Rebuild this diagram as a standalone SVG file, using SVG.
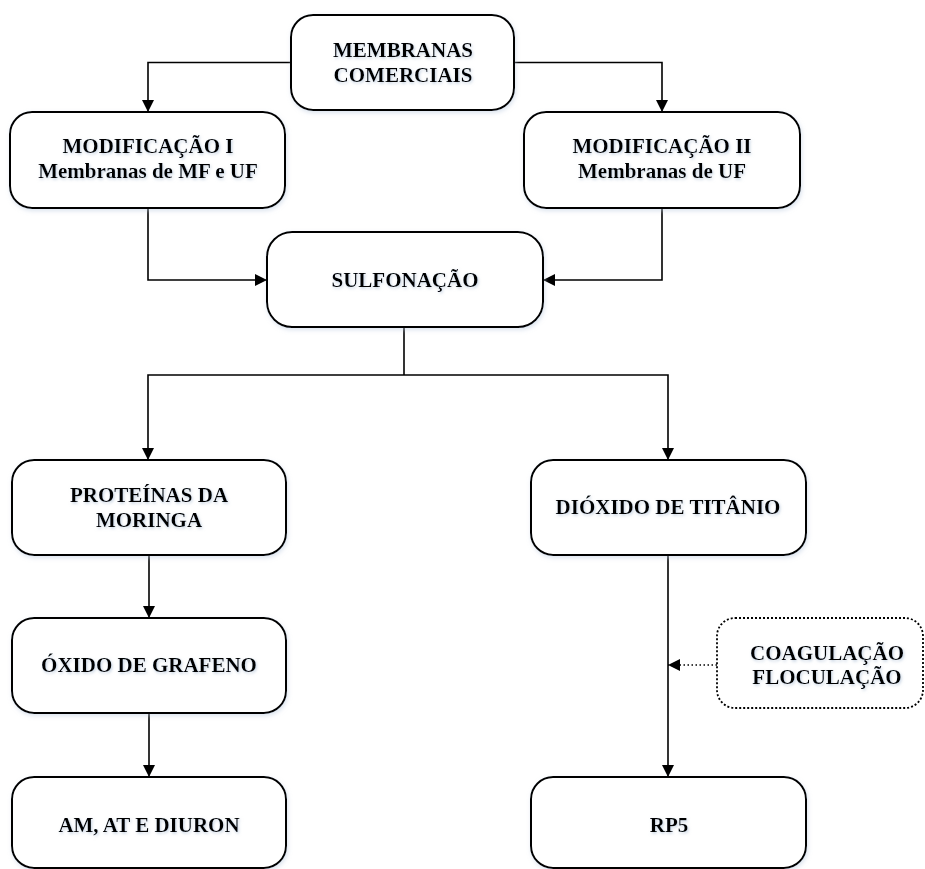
<svg xmlns="http://www.w3.org/2000/svg" width="925" height="869" viewBox="0 0 925 869">
<style>
  .box { fill: #ffffff; stroke: #000000; stroke-width: 2; }
  .dot { fill: #ffffff; stroke: #000000; stroke-width: 1.8; stroke-dasharray: 2 2; }
  .t { font-family: "Liberation Serif", "Times New Roman", serif; font-weight: bold; font-size: 21px; fill: #000000; text-anchor: middle; filter: url(#glow); }
  .c { fill: none; stroke: #000000; stroke-width: 1.6; }
  .cd { fill: none; stroke: #000000; stroke-width: 1.4; stroke-dasharray: 1.5 2.5; }
</style>
<defs>
  <marker id="arr" viewBox="0 0 12 12" refX="12" refY="6" markerWidth="12" markerHeight="12" markerUnits="userSpaceOnUse" orient="auto">
    <path d="M0,0 L12,6 L0,12 Z" fill="#000000"/>
  </marker>
  <filter id="glow" x="-10%" y="-30%" width="120%" height="160%">
    <feDropShadow dx="1" dy="1.5" stdDeviation="1.5" flood-color="#9fb4cf" flood-opacity="0.6"/>
  </filter>
  <filter id="bsh" x="-5%" y="-5%" width="110%" height="115%">
    <feDropShadow dx="1" dy="2" stdDeviation="2" flood-color="#b8c8de" flood-opacity="0.5"/>
  </filter>
</defs>
<rect width="925" height="869" fill="#ffffff"/>

<g id="connectors">
  <path class="c" d="M291,62.5 H148 V112" marker-end="url(#arr)"/>
  <path class="c" d="M514,62.5 H662 V112" marker-end="url(#arr)"/>
  <path class="c" d="M148,208 V280 H267" marker-end="url(#arr)"/>
  <path class="c" d="M662,208 V280 H543" marker-end="url(#arr)"/>
  <path class="c" d="M404,327 V375"/>
  <path class="c" d="M404,375 H148 V460" marker-end="url(#arr)"/>
  <path class="c" d="M404,375 H668 V460" marker-end="url(#arr)"/>
  <path class="c" d="M149,555 V618" marker-end="url(#arr)"/>
  <path class="c" d="M149,713 V777" marker-end="url(#arr)"/>
  <path class="c" d="M668,555 V777" marker-end="url(#arr)"/>
  <path class="cd" d="M717,665 H668" marker-end="url(#arr)"/>
</g>

<g id="membranas">
  <rect class="box" filter="url(#bsh)" x="291" y="15" width="223" height="95" rx="22"/>
  <text class="t" x="403" y="57">MEMBRANAS</text>
  <text class="t" x="403" y="82">COMERCIAIS</text>
</g>
<g id="mod1">
  <rect class="box" filter="url(#bsh)" x="10" y="112" width="275" height="96" rx="22"/>
  <text class="t" x="148" y="153">MODIFICAÇÃO I</text>
  <text class="t" x="148" y="178">Membranas de MF e UF</text>
</g>
<g id="mod2">
  <rect class="box" filter="url(#bsh)" x="524" y="112" width="276" height="96" rx="22"/>
  <text class="t" x="662" y="153">MODIFICAÇÃO II</text>
  <text class="t" x="662" y="178">Membranas de UF</text>
</g>
<g id="sulfonacao">
  <rect class="box" filter="url(#bsh)" x="267" y="232" width="276" height="95" rx="25"/>
  <text class="t" x="405" y="287">SULFONAÇÃO</text>
</g>
<g id="proteinas">
  <rect class="box" filter="url(#bsh)" x="12" y="460" width="274" height="95" rx="22"/>
  <text class="t" x="149" y="502">PROTEÍNAS DA</text>
  <text class="t" x="149" y="527">MORINGA</text>
</g>
<g id="dioxido">
  <rect class="box" filter="url(#bsh)" x="531" y="460" width="275" height="95" rx="22"/>
  <text class="t" x="668" y="514">DIÓXIDO DE TITÂNIO</text>
</g>
<g id="oxido">
  <rect class="box" filter="url(#bsh)" x="12" y="618" width="274" height="95" rx="22"/>
  <text class="t" x="149" y="672">ÓXIDO DE GRAFENO</text>
</g>
<g id="coagulacao">
  <rect class="dot" x="717" y="618" width="206" height="90" rx="18"/>
  <text class="t" x="827" y="660">COAGULAÇÃO</text>
  <text class="t" x="827" y="684">FLOCULAÇÃO</text>
</g>
<g id="am">
  <rect class="box" filter="url(#bsh)" x="12" y="777" width="274" height="91" rx="22"/>
  <text class="t" x="149" y="832">AM, AT E DIURON</text>
</g>
<g id="rp5">
  <rect class="box" filter="url(#bsh)" x="531" y="777" width="275" height="91" rx="22"/>
  <text class="t" x="669" y="832">RP5</text>
</g>
</svg>
